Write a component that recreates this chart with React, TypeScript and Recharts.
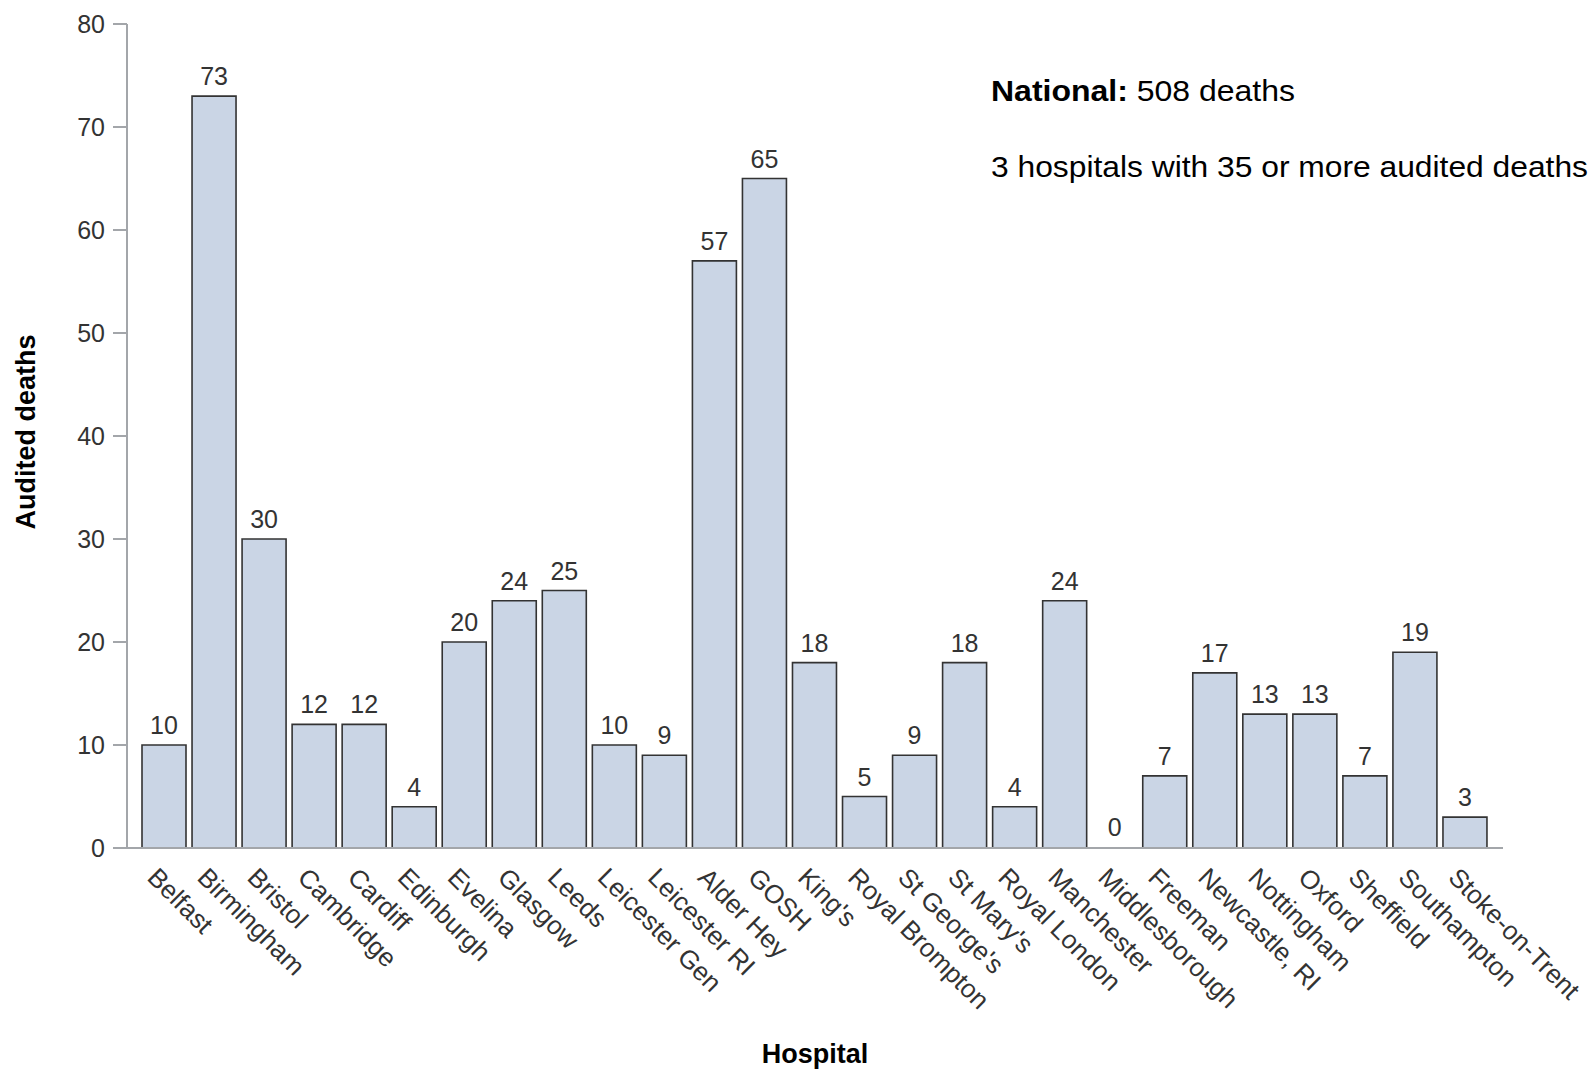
import React from "react";
import { Bar, BarChart, Cell, LabelList, Label, XAxis, YAxis } from "recharts";

const hospitals = [
  "Belfast", "Birmingham", "Bristol", "Cambridge", "Cardiff", "Edinburgh", "Evelina",
  "Glasgow", "Leeds", "Leicester Gen", "Leicester RI", "Alder Hey", "GOSH", "King's",
  "Royal Brompton", "St George's", "St Mary's", "Royal London", "Manchester",
  "Middlesborough", "Freeman", "Newcastle, RI", "Nottingham", "Oxford", "Sheffield",
  "Southampton", "Stoke-on-Trent"
];
const deaths = [10, 73, 30, 12, 12, 4, 20, 24, 25, 10, 9, 57, 65, 18, 5, 9, 18, 4, 24, 0, 7, 17, 13, 13, 7, 19, 3];
const yTicks = [0, 10, 20, 30, 40, 50, 60, 70, 80];

const data = hospitals.map((name, i) => ({ name, deaths: deaths[i] }));

const font = "'Liberation Sans', Arial, sans-serif";
const textColor = "#333";
const axisColor = "#a3a6aa";

function XTick({ x, y, payload }: any) {
  return (
    <g transform={`translate(${x - 18},${y + 31})`}>
      <text transform="rotate(45)" textAnchor="start" fontSize={26} fill={textColor} fontFamily={font}>
        {payload.value}
      </text>
    </g>
  );
}

export default function App() {
  return (
    <div style={{ position: "absolute", left: 0, top: 0, width: 1591, height: 1070, background: "#fff" }}>
      <BarChart
        width={1591}
        height={1070}
        data={data}
        margin={{ top: 24, right: 88, left: 0, bottom: 0 }}
        barCategoryGap={3}
      >
        <XAxis
          dataKey="name"
          height={222}
          interval={0}
          tick={<XTick />}
          tickLine={false}
          tickSize={0}
          tickMargin={0}
          padding={{ left: 12, right: 13 }}
          stroke={axisColor}
          strokeWidth={2}
        >
          <Label
            content={() => (
              <text x={815} y={1063} textAnchor="middle" fontSize={27} fontWeight="bold" fill="#000" fontFamily={font}>
                Hospital
              </text>
            )}
          />
        </XAxis>
        <YAxis
          width={127}
          domain={[0, 80]}
          ticks={yTicks}
          interval={0}
          tickSize={14}
          tickMargin={8}
          stroke={axisColor}
          strokeWidth={2}
          tick={{ fill: textColor, fontSize: 25, fontFamily: font }}
        >
          <Label
            content={() => (
              <text
                x={35}
                y={432}
                transform="rotate(-90, 35, 432)"
                textAnchor="middle"
                fontSize={27}
                fontWeight="bold"
                fill="#000"
                fontFamily={font}
              >
                Audited deaths
              </text>
            )}
          />
        </YAxis>
        <Bar
          dataKey="deaths"
          fill="#cad5e5"
          stroke="#333"
          strokeWidth={1.6}
          minPointSize={(v: number) => (v === 0 ? 1 : 0)}
          isAnimationActive={false}
        >
          {data.map((d) => (
            <Cell
              key={d.name}
              fill={d.deaths === 0 ? "none" : "#cad5e5"}
              stroke={d.deaths === 0 ? "none" : "#333"}
            />
          ))}
          <LabelList dataKey="deaths" position="top" offset={11} fill={textColor} fontSize={25} fontFamily={font} />
        </Bar>
      </BarChart>
      <svg width={1591} height={1070} style={{ position: "absolute", left: 0, top: 0, pointerEvents: "none" }}>
        <text x={991} y={101} fontSize={30} fill="#000" fontFamily={font} textLength={304} lengthAdjust="spacingAndGlyphs">
          <tspan fontWeight="bold">National:</tspan> 508 deaths
        </text>
        <text x={991} y={177} fontSize={30} fill="#000" fontFamily={font} textLength={597} lengthAdjust="spacingAndGlyphs">
          3 hospitals with 35 or more audited deaths
        </text>
      </svg>
    </div>
  );
}
